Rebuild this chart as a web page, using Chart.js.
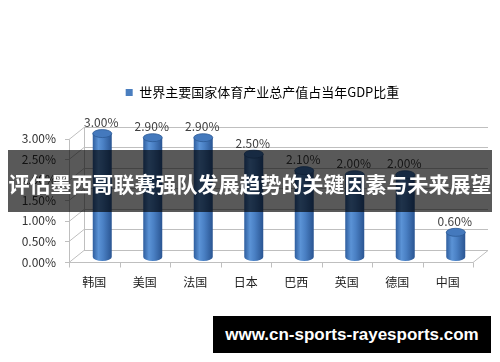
<!DOCTYPE html>
<html>
<head>
<meta charset="utf-8">
<script src="https://cdn.jsdelivr.net/npm/chart.js@4"></script>
<style>
  body { margin: 0; background: #fff; }
  #wrap { position: relative; width: 500px; height: 362px; overflow: hidden; }
  #banner {
    position: absolute; left: 8px; top: 150px; width: 484px; height: 62px;
    background: rgba(0, 0, 0, 0.65); color: #fff;
    font: bold 21px "Noto Sans CJK SC", sans-serif;
    display: flex; align-items: center; justify-content: center;
    padding-top: 3px; box-sizing: border-box;
  }
  #site {
    position: absolute; left: 213px; top: 316px; width: 278px; height: 37px;
    background: #000; color: #fff;
    font: bold 17px "Liberation Sans", sans-serif;
    display: flex; align-items: center; justify-content: center;
  }
</style>
</head>
<body>
<div id="wrap">
  <canvas id="grafica" width="500" height="362"></canvas>
  <div id="banner">评估墨西哥联赛强队发展趋势的关键因素与未来展望</div>
  <div id="site">www.cn-sports-rayesports.com</div>
</div>
<script>
const paises = ["韩国", "美国", "法国", "日本", "巴西", "英国", "德国", "中国"];
const porcentajes = [3.0, 2.9, 2.9, 2.5, 2.1, 2.0, 2.0, 0.6];
const serie = "世界主要国家体育产业总产值占当年GDP比重";

const fuente = '"Noto Sans CJK SC", sans-serif';
const prof = { dx: 15, dy: -12 }; // profundidad del "3D"

// la leyenda va algo a la derecha en el original
const leyendaPlugin = {
  id: "leyendaDerecha",
  afterLayout(chart) {
    chart.legend.left += 26;
    chart.legend.right += 26;
  },
};

// pared de fondo + piso
const paredPlugin = {
  id: "pared",
  beforeDatasetsDraw(chart) {
    const { ctx, chartArea: a, scales } = chart;
    const y = scales.y;
    ctx.save();
    ctx.strokeStyle = "#bfbfbf";
    ctx.lineWidth = 1;
    y.ticks.forEach((t) => {
      if (t.value > 3) return;
      const py = Math.round(y.getPixelForValue(t.value)) + 0.5;
      ctx.beginPath();
      ctx.moveTo(a.left, py);
      ctx.lineTo(a.left + prof.dx, py + prof.dy);
      ctx.lineTo(a.right + prof.dx, py + prof.dy);
      ctx.stroke();
    });
    const y0 = Math.round(y.getPixelForValue(0)) + 0.5;
    const y3 = Math.round(y.getPixelForValue(3)) + 0.5;
    // eje frontal y fondo
    ctx.beginPath();
    ctx.moveTo(a.left + 0.5, y0);
    ctx.lineTo(a.left + 0.5, y3);
    ctx.moveTo(a.left + prof.dx + 0.5, y0 + prof.dy);
    ctx.lineTo(a.left + prof.dx + 0.5, y3 + prof.dy);
    // piso
    ctx.moveTo(a.left, y0);
    ctx.lineTo(a.right, y0);
    ctx.lineTo(a.right + prof.dx, y0 + prof.dy);
    ctx.stroke();
    // marcas del eje x
    for (let i = 0; i <= paises.length; i++) {
      const px = Math.round(a.left + (i * (a.right - a.left)) / paises.length) + 0.5;
      ctx.beginPath();
      ctx.moveTo(px, y0);
      ctx.lineTo(px, y0 + 5);
      ctx.stroke();
    }
    // marcas eje y
    y.ticks.forEach((t) => {
      if (t.value > 3) return;
      const py = Math.round(y.getPixelForValue(t.value)) + 0.5;
      ctx.beginPath();
      ctx.moveTo(a.left - 4, py);
      ctx.lineTo(a.left, py);
      ctx.stroke();
    });
    ctx.restore();
  },
};

// cilindros + etiquetas
const cilindroPlugin = {
  id: "cilindro",
  afterDatasetsDraw(chart) {
    const { ctx } = chart;
    const meta = chart.getDatasetMeta(0);
    ctx.save();
    meta.data.forEach((bar, i) => {
      const p = bar.getProps(["x", "y", "base", "width"], true);
      const cx = p.x + 8;
      const top = p.y - 5;
      const bot = p.base - 5;
      const rx = 9.5, ry = 4;
      const g = ctx.createLinearGradient(cx - rx, 0, cx + rx, 0);
      g.addColorStop(0, "#2f5e9e");
      g.addColorStop(0.3, "#5b93d6");
      g.addColorStop(0.55, "#4a80c4");
      g.addColorStop(1, "#2a5592");
      ctx.fillStyle = g;
      ctx.beginPath();
      ctx.moveTo(cx - rx, top);
      ctx.lineTo(cx - rx, bot);
      ctx.ellipse(cx, bot, rx, ry, 0, Math.PI, 0, true);
      ctx.lineTo(cx + rx, top);
      ctx.closePath();
      ctx.fill();
      ctx.fillStyle = "#4479bd";
      ctx.beginPath();
      ctx.ellipse(cx, top, rx, ry, 0, 0, Math.PI * 2);
      ctx.fill();
      ctx.strokeStyle = "#2c5a96";
      ctx.lineWidth = 0.8;
      ctx.stroke();
      // etiqueta
      ctx.fillStyle = "#404040";
      ctx.font = "12px " + fuente;
      ctx.textAlign = "center";
      ctx.textBaseline = "middle";
      ctx.fillText(porcentajes[i].toFixed(2) + "%", cx - 1, top - 11);
    });
    ctx.restore();
  },
};

new Chart(document.getElementById("grafica").getContext("2d"), {
  type: "bar",
  data: {
    labels: paises,
    datasets: [
      {
        label: serie,
        data: porcentajes,
        backgroundColor: "rgba(0,0,0,0)",
        borderWidth: 0,
        barPercentage: 0.38,
        categoryPercentage: 1,
      },
    ],
  },
  options: {
    responsive: false,
    animation: false,
    events: [],
    layout: { padding: { top: 70, right: 27, left: 0, bottom: 0 } },
    plugins: {
      legend: {
        position: "top",
        labels: {
          boxWidth: 7,
          boxHeight: 7,
          padding: 16,
          color: "#333",
          font: { family: fuente, size: 13 },
          generateLabels: () => [
            { text: serie, fillStyle: "#4a7ebf", strokeStyle: "#4a7ebf", lineWidth: 0 },
          ],
        },
      },
      // solo hace de espacio entre la leyenda y el grafico
      subtitle: {
        display: true,
        text: " ",
        weight: 500,
        padding: 0,
        font: { size: 9, lineHeight: 1 },
      },
      tooltip: { enabled: false },
    },
    scales: {
      x: {
        grid: { display: false, drawTicks: false },
        border: { display: false },
        ticks: { color: "#222", font: { family: fuente, size: 12 }, padding: 13 },
        afterFit: (s) => { s.height = 100; },
      },
      y: {
        min: 0,
        max: 3.5,
        grid: { display: false, drawTicks: false },
        border: { display: false },
        ticks: {
          stepSize: 0.5,
          padding: 13,
          color: "#333",
          font: { family: fuente, size: 12 },
          callback: (v) => (v > 3 ? "" : v.toFixed(2) + "%"),
        },
        afterFit: (s) => { s.width = 69; },
      },
    },
  },
  plugins: [leyendaPlugin, paredPlugin, cilindroPlugin],
});
</script>
</body>
</html>
